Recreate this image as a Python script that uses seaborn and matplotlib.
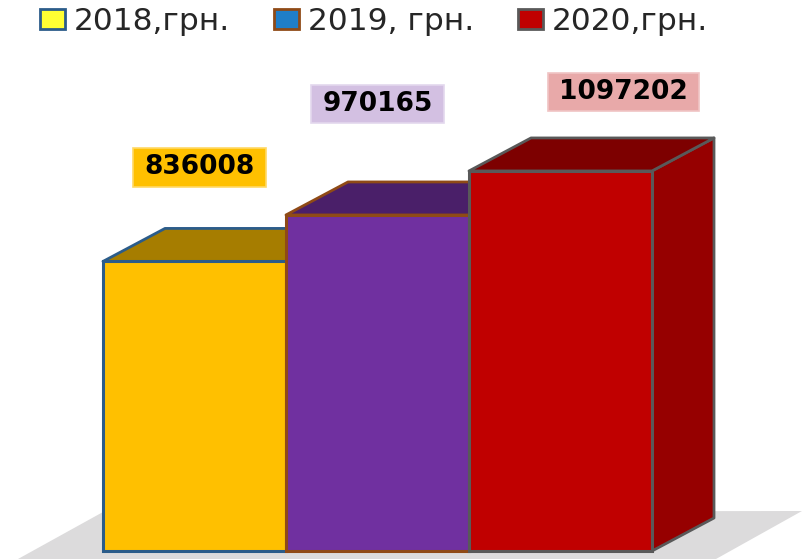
"""
3D-style bar chart: amounts per year, UAH
"""
import matplotlib
matplotlib.use('Agg')
import matplotlib.pyplot as plt
from matplotlib.patches import Patch, Polygon
import pandas as pd
import seaborn as sns

# data
years = ['2018', '2019', '2020']
values = [836008, 970165, 1097202]
legend_labels = ['2018,грн.', '2019, грн.', '2020,грн.']

# colours
front_colors = ['#FFC000', '#7030A0', '#C00000']
top_colors = ['#A67D00', '#4A1F69', '#7D0000']
side_colors = ['#A67D00', '#4A1F69', '#960000']
edge_colors = ['#2B5C8A', '#8F4A16', '#595959']
legend_colors = ['#FFFF33', '#1F7EC8', '#C00000']
label_colors = ['#FFC000', '#D3C0E2', '#E8A9A9']
label_edges = ['#FFD966', '#E3D8EE', '#F0C4C4']

# layout, in pixels of the 802x559 picture
WIDTH, HEIGHT = 802, 559
BAR_PX = 183
FIRST_CENTER_PX = 194.5
BASE_PX = 551
VALUE_PER_PX = 2887
DEPTH_X = 62 / BAR_PX
DEPTH_Y = 33 * VALUE_PER_PX
label_offsets = [(5, 94), (0, 111), (63, 79)]

sns.set_theme(style='white')
plt.rcParams['font.family'] = ['DejaVu Sans']

fig = plt.figure(figsize=(WIDTH / 100, HEIGHT / 100), dpi=100)
ax = fig.add_axes([0, 0, 1, 1])

df = pd.DataFrame({'year': years, 'value': values})
sns.barplot(data=df, x='year', y='value', hue='year', palette=front_colors,
            width=1.0, saturation=1, legend=False, ax=ax)

# floor under the bars
floor = Polygon([(18 / WIDTH, 0), (103 / WIDTH, 47 / HEIGHT), (1, 48 / HEIGHT), (716 / WIDTH, 0)],
                closed=True, transform=ax.transAxes, facecolor='#DCDBDC', edgecolor='none', zorder=0)
ax.add_patch(floor)

# front faces come from seaborn, top and side are added behind each one
for i, patch in enumerate(ax.patches[:3]):
    patch.set_edgecolor(edge_colors[i])
    patch.set_linewidth(2.2)
    patch.set_zorder(2 + i)
    x0 = patch.get_x()
    x1 = x0 + patch.get_width()
    top = patch.get_height()
    top_face = Polygon([(x0, top), (x0 + DEPTH_X, top + DEPTH_Y), (x1 + DEPTH_X, top + DEPTH_Y), (x1, top)],
                       closed=True, facecolor=top_colors[i], edgecolor=edge_colors[i],
                       linewidth=2.0, joinstyle='round', zorder=1.5 + i)
    side_face = Polygon([(x1, 0), (x1 + DEPTH_X, DEPTH_Y), (x1 + DEPTH_X, top + DEPTH_Y), (x1, top)],
                        closed=True, facecolor=side_colors[i], edgecolor=edge_colors[i],
                        linewidth=2.0, joinstyle='round', zorder=1.5 + i)
    ax.add_patch(side_face)
    ax.add_patch(top_face)

# value labels
for i, val in enumerate(values):
    ax.annotate(str(val), xy=(i, val), xytext=label_offsets[i], textcoords='offset pixels',
                ha='center', va='center', fontsize=19, fontweight='bold', color='black', zorder=10,
                bbox=dict(boxstyle='square,pad=0.42', facecolor=label_colors[i], mutation_aspect=0.55,
                          edgecolor=label_edges[i], linewidth=1.2))

ax.set_xlim(-FIRST_CENTER_PX / BAR_PX, (WIDTH - FIRST_CENTER_PX) / BAR_PX)
ax.set_ylim((BASE_PX - HEIGHT) * VALUE_PER_PX, BASE_PX * VALUE_PER_PX)
ax.axis('off')

handles = [Patch(facecolor=legend_colors[i], edgecolor=edge_colors[i], linewidth=2.0)
           for i in range(3)]
ax.legend(handles, legend_labels, ncol=3, frameon=False, loc='upper left',
          bbox_to_anchor=(40 / WIDTH, 1 - 7 / HEIGHT), borderaxespad=0, borderpad=0,
          fontsize=22.5, labelcolor='#262626', handlelength=0.8, handleheight=0.62,
          handletextpad=0.29, columnspacing=1.4)

fig.savefig('out.png', dpi=100)
